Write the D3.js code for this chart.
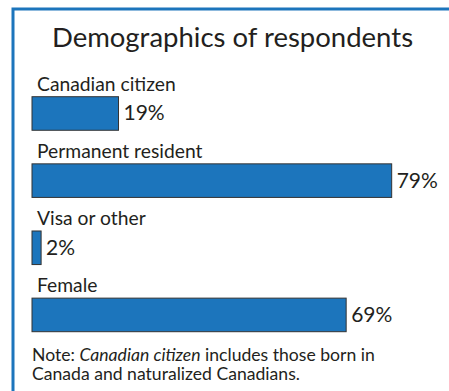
<!DOCTYPE html>
<html>
<head>
<meta charset="utf-8">
<script src="https://cdn.jsdelivr.net/npm/d3@7"></script>
<style>
  html, body { margin: 0; padding: 0; background: #fff; }
  svg { display: block; }
  text { font-family: Lato, "Open Sans", sans-serif; fill: #231f20; }
</style>
</head>
<body>
<svg id="chart" width="449" height="391"></svg>
<script>
// Share of respondents by status / gender, in percent
const categories = ["Canadian citizen", "Permanent resident", "Visa or other", "Female"];
const percentValues = [19, 79, 2, 69];
const valueLabels = ["19%", "79%", "2%", "69%"];
const titleText = "Demographics of respondents";

const svg = d3.select("#chart");
const barColor = "#1c75bc";

// Outer blue frame, running off the right and bottom edges
svg.append("rect")
  .attr("x", 13).attr("y", 9)
  .attr("width", 460).attr("height", 400)
  .attr("fill", "#fff")
  .attr("stroke", barColor)
  .attr("stroke-width", 3);

svg.append("text")
  .attr("x", 232.5).attr("y", 47)
  .attr("text-anchor", "middle")
  .attr("font-size", 27.5)
  .text(titleText);

const x = d3.scaleLinear().domain([0, 100]).range([32, 32 + 455.3]);
const y = d3.scaleBand()
  .domain(categories)
  .range([96.7, 331.7])
  .paddingInner(0.5)
  .paddingOuter(0);

const rows = svg.selectAll("g.row")
  .data(categories.map((c, i) => ({ cat: c, v: percentValues[i], label: valueLabels[i] })))
  .join("g")
  .attr("class", "row");

rows.append("text")
  .attr("x", x(0) + 5)
  .attr("y", d => y(d.cat) - 6)
  .attr("font-size", 19.3)
  .text(d => d.cat);

rows.append("rect")
  .attr("x", x(0))
  .attr("y", d => y(d.cat))
  .attr("width", d => x(d.v) - x(0))
  .attr("height", y.bandwidth())
  .attr("fill", barColor)
  .attr("stroke", "#333")
  .attr("stroke-width", 1);

rows.append("text")
  .attr("x", d => x(d.v) + 5)
  .attr("y", d => y(d.cat) + y.bandwidth() / 2 + 7)
  .attr("font-size", 21)
  .text(d => d.label);

// Footnote
const note = svg.append("text").attr("font-size", 17.6);
const l1 = note.append("tspan").attr("x", 32).attr("y", 361);
l1.append("tspan").text("Note: ");
l1.append("tspan").attr("font-style", "italic").text("Canadian citizen");
l1.append("tspan").text(" includes those born in");
note.append("tspan").attr("x", 32).attr("y", 380).text("Canada and naturalized Canadians.");
</script>
</body>
</html>
